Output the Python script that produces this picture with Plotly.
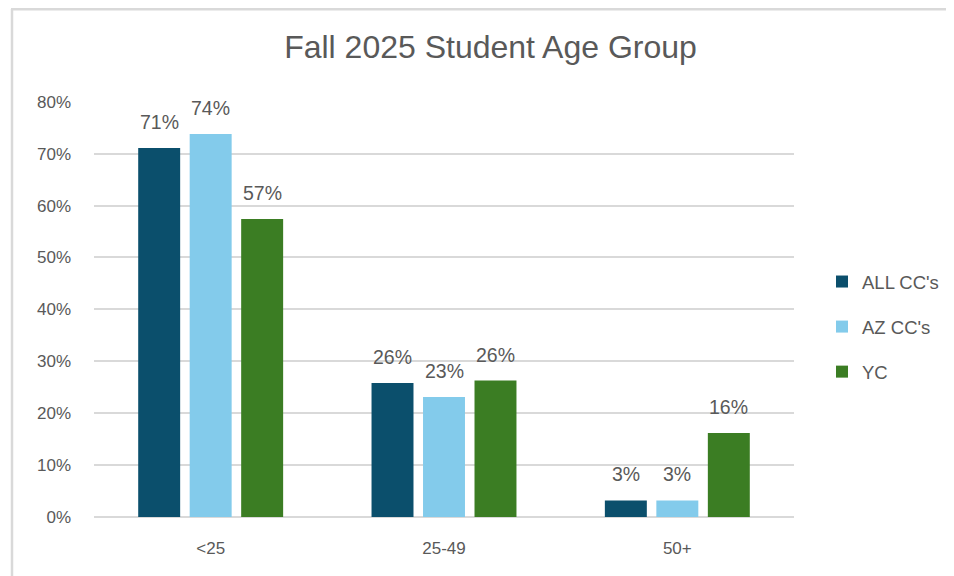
import plotly.graph_objects as go

categories = ["<25", "25-49", "50+"]
series_names = ["ALL CC's", "AZ CC's", "YC"]
all_cc = [0.711, 0.258, 0.032]
az_cc = [0.738, 0.231, 0.032]
yc = [0.574, 0.263, 0.162]
colors = ["#0B4F6C", "#83CBEB", "#3B7D23"]
y_ticks = [0, 0.1, 0.2, 0.3, 0.4, 0.5, 0.6, 0.7, 0.8]

OFF = 8  # page body offset
W, H = 954 - OFF, 576 - OFF
# plot area in viewport pixels
X0, X1, Y0, Y1 = 94, 794, 101, 517
L, R, T, B = X0 - OFF, W - (X1 - OFF), Y0 - OFF, H - (Y1 - OFF)
pw, ph = X1 - X0, Y1 - Y0

FONT = "Liberation Sans, Arial"
GREY = "#595959"

def px_x(p):
    return (p - X0) / pw

def px_y(p):
    return (Y1 - p) / ph

fig = go.Figure()
for i, (name, vals, col) in enumerate(zip(series_names, [all_cc, az_cc, yc], colors)):
    fig.add_trace(go.Bar(
        x=categories, y=vals, name=name, legendgroup=name,
        marker=dict(color=col, line=dict(width=0)),
    ))
    for c, v in zip(categories, vals):
        fig.add_annotation(x=c, y=v, xref="x", yref="y", text=f"{v:.0%}",
                           showarrow=False, xanchor="center", yanchor="bottom",
                           xshift=(i - 1) * 51.5, yshift=13,
                           font=dict(family=FONT, size=19.5, color=GREY))

fig.update_layout(
    width=W, height=H,
    margin=dict(l=L, r=R, t=T, b=B, autoexpand=False),
    paper_bgcolor="white", plot_bgcolor="white",
    barmode="group", bargap=0.338, bargroupgap=0.185,
    title=dict(text="Fall 2025 Student Age Group", xref="container",
               x=(490.5 - OFF) / W, xanchor="center",
               y=1 - (47 - OFF) / H, yanchor="middle",
               font=dict(family=FONT, size=32, color=GREY)),
    xaxis=dict(showgrid=False, showline=False, ticks="", ticklabelstandoff=19,
               tickfont=dict(family=FONT, size=17, color=GREY)),
    yaxis=dict(range=[0, 0.8015], tickvals=y_ticks, tickformat=".0%",
               showgrid=True, gridcolor="#D9D9D9", gridwidth=1.5,
               zeroline=True, zerolinecolor="#D9D9D9", zerolinewidth=2,
               ticks="", ticklabelstandoff=22,
               tickfont=dict(family=FONT, size=17, color=GREY)),
    legend=dict(x=px_x(822), y=px_y(263), xanchor="left", yanchor="top",
                font=dict(family=FONT, size=18.5, color=GREY),
                itemsizing="constant", tracegroupgap=18, bgcolor="rgba(0,0,0,0)",
                traceorder="grouped"),
    shapes=[
        dict(type="line", xref="paper", yref="paper",
             x0=px_x(12), x1=px_x(12), y0=px_y(600), y1=px_y(9),
             line=dict(color="#D9D9D9", width=2.5)),
        dict(type="line", xref="paper", yref="paper",
             x0=px_x(11), x1=px_x(1000), y0=px_y(9.2), y1=px_y(9.2),
             line=dict(color="#D9D9D9", width=2.5)),
    ],
)

fig.write_html("out.html")
